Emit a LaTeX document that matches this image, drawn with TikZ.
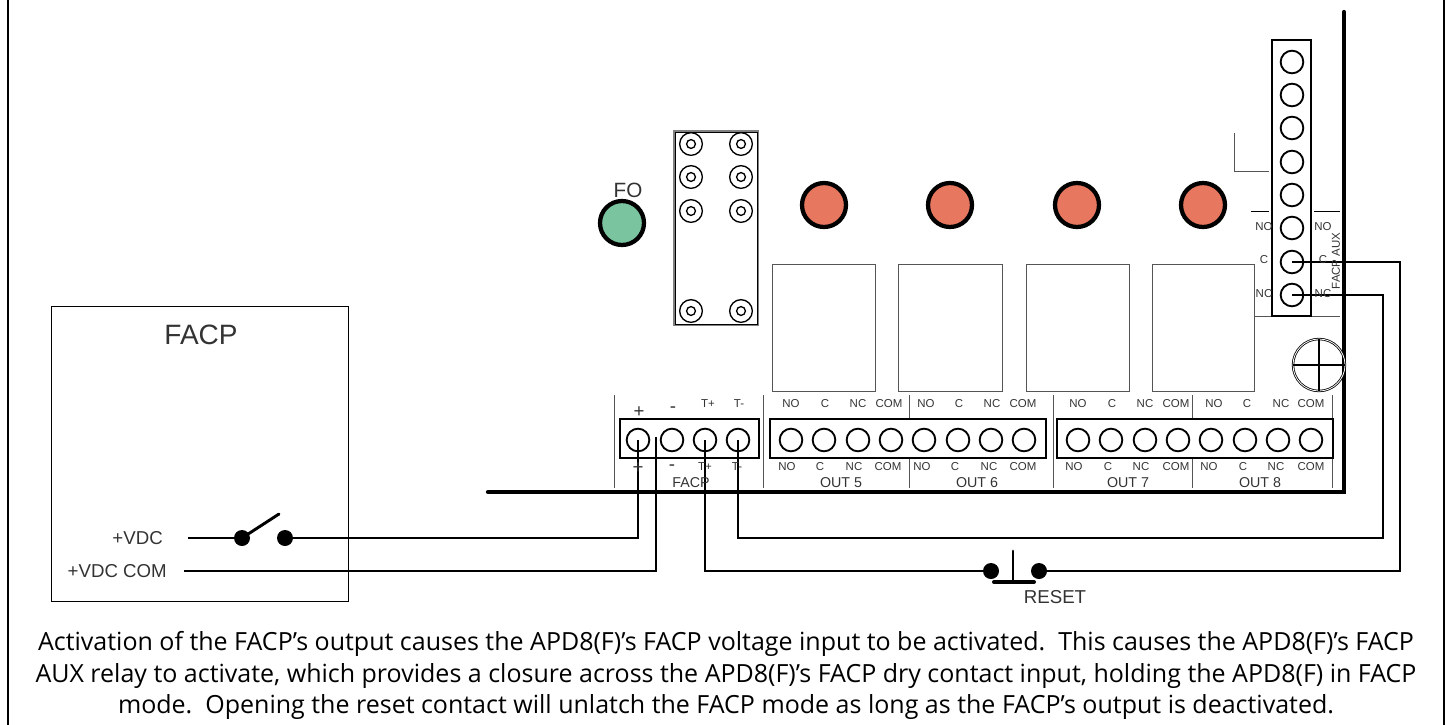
\documentclass[tikz,border=0pt]{standalone}
\usepackage{fontspec}
\setmainfont{Liberation Sans}
\newfontfamily\notefont{Open Sans}
\definecolor{ledgreen}{HTML}{7BC4A0}
\definecolor{ledred}{HTML}{E8775F}
\definecolor{tickgray}{HTML}{555555}
\definecolor{labelgray}{HTML}{333333}

\begin{document}
\begin{tikzpicture}[x=0.75pt,y=0.75pt,yscale=-1,xscale=1,
  term/.style={draw,circle,line width=1.4pt,minimum size=17pt,inner sep=0pt,outer sep=0pt},
  post/.style={draw,circle,line width=1pt,minimum size=17pt,inner sep=0pt,outer sep=0pt},
  hole/.style={draw,circle,line width=1pt,minimum size=6.6pt,inner sep=0pt,outer sep=0pt},
  led/.style={draw,circle,line width=3.2pt,minimum size=33pt,inner sep=0pt,outer sep=0pt},
  dot/.style={fill=black,circle,minimum size=12pt,inner sep=0pt,outer sep=0pt},
  wire/.style={line width=1.4pt},
  strip/.style={line width=1.6pt},
  tick/.style={draw=tickgray,line width=0.7pt},
  lbl/.style={inner sep=0.75pt,text=labelgray,font=\fontsize{8.6}{10}\selectfont},
  mid/.style={inner sep=0.75pt,text=labelgray,font=\fontsize{10.7}{12}\selectfont},
  big/.style={inner sep=0.75pt,text=labelgray,font=\fontsize{14}{17}\selectfont},
  note/.style={anchor=base,inner sep=0.75pt,font=\notefont\fontsize{18.75}{22}\selectfont}]
\useasboundingbox (0,0) rectangle (1450,725);

%Shape: Frame
\draw [line width=1.6pt] (8,-2) -- (8,727) (1444,-2) -- (1444,727) ;

%Shape: FACP box
\draw [line width=0.7pt] (51,306) rectangle (348,601) ;

%Shape: Board edge
\draw [line width=3.2pt,line cap=round] (488,492) -- (1344,492) -- (1344,12) ;

%Shape: Contact module
\draw [line width=1.6pt,draw=gray] (674,131) rectangle (758,325) ;
\draw [line width=0.5pt] (675,132) rectangle (757,324) ;
\draw (691,144) node [post] (pa) {}; \draw (691,144) node [hole] (ha) {};
\draw (741,144) node [post] (pb) {}; \draw (741,144) node [hole] (hb) {};
\draw (691,177) node [post] (pc) {}; \draw (691,177) node [hole] (hc) {};
\draw (741,177) node [post] (pd) {}; \draw (741,177) node [hole] (hd) {};
\draw (691,211) node [post] (pe) {}; \draw (691,211) node [hole] (he) {};
\draw (741,211) node [post] (pf) {}; \draw (741,211) node [hole] (hf) {};
\draw (691,311) node [post] (pg) {}; \draw (691,311) node [hole] (hg) {};
\draw (741,311) node [post] (ph) {}; \draw (741,311) node [hole] (hh) {};

%Shape: LEDs
\draw (622,223) node [led,fill=ledgreen] (ledfo) {};
\draw (824,205) node [led,fill=ledred] (leda) {};
\draw (950,205) node [led,fill=ledred] (ledb) {};
\draw (1077,205) node [led,fill=ledred] (ledc) {};
\draw (1203,205) node [led,fill=ledred] (ledd) {};

%Shape: Relays
\draw [tick] (772,264) rectangle (875,391) ;
\draw [tick] (898,264) rectangle (1002,391) ;
\draw [tick] (1026,264) rectangle (1129,391) ;
\draw [tick] (1152,264) rectangle (1254,391) ;

%Shape: Screw
\draw [line width=0.6pt,double,double distance=0.6pt] (1319,365) circle [radius=26] ;
\draw [line width=0.8pt] (1293,365) -- (1345,365) (1319,339) -- (1319,391) ;

%Shape: Ticks
\draw [tick] (614,395) -- (614,488) ;
\draw [tick] (763,395) -- (763,488) ;
\draw [tick] (909,395) -- (909,419) (909,458) -- (909,488) ;
\draw [tick] (1053,395) -- (1053,488) ;
\draw [tick] (1192,395) -- (1192,419) (1192,458) -- (1192,488) ;
\draw [tick] (1332,395) -- (1332,488) ;
\draw [tick] (1234,133) -- (1234,171) -- (1269,171) ;
\draw [line width=0.7pt] (1251,211) -- (1269,211) (1314,211) -- (1340,211) ;
\draw [tick] (1255,316) -- (1340,316) ;

%Shape: Terminal strips
\draw [strip] (620,419) rectangle (759,458) ;
\draw [strip] (770,419) rectangle (1046,458) ;
\draw [strip] (1057,419) rectangle (1333,458) ;
\draw [strip] (1272,40) rectangle (1311,316) ;

%Shape: Terminals
\draw (638,440) node [term] (tplus) {};
\draw (672,440) node [term] (tminus) {};
\draw (705,440) node [term] (ttplus) {};
\draw (738,440) node [term] (ttminus) {};
\draw (791,440) node [term] (ta) {};
\draw (824,440) node [term] (tb) {};
\draw (858,440) node [term] (tc) {};
\draw (891,440) node [term] (td) {};
\draw (924,440) node [term] (te) {};
\draw (958,440) node [term] (tf) {};
\draw (991,440) node [term] (tg) {};
\draw (1024,440) node [term] (th) {};
\draw (1078,440) node [term] (ti) {};
\draw (1111,440) node [term] (tj) {};
\draw (1145,440) node [term] (tk) {};
\draw (1178,440) node [term] (tl) {};
\draw (1211,440) node [term] (tm) {};
\draw (1245,440) node [term] (tn) {};
\draw (1278,440) node [term] (to) {};
\draw (1311,440) node [term] (tp) {};
\draw (1292,62) node [term] (auxa) {};
\draw (1292,95) node [term] (auxb) {};
\draw (1292,128) node [term] (auxd) {};
\draw (1292,162) node [term] (auxe) {};
\draw (1292,195) node [term] (auxf) {};
\draw (1292,228) node [term] (auxg) {};
\draw (1292,262) node [term] (auxc) {};
\draw (1292,295) node [term] (auxn) {};

%Shape: Switch and reset contacts
\draw (242,538) node [dot] (swa) {};
\draw (285,538) node [dot] (swb) {};
\draw (991,571) node [dot] (rsta) {};
\draw (1039,571) node [dot] (rstb) {};
\coordinate (swtip) at (279,514);
\coordinate (rsttop) at (1013,551);
\coordinate (rstfoot) at (1013,582);
\coordinate (vdcend) at (188,538);
\coordinate (comend) at (184,571);
\coordinate (comtop) at (656,437);
\coordinate (cornerc) at (1400,262);
\coordinate (cornern) at (1383,295);
\coordinate (cornerb) at (1383,538);
\coordinate (foota) at (994,582);
\coordinate (footb) at (1034,582);
\draw [line width=2.2pt,line cap=round] (swa) -- (swtip) ;
\draw [line width=2.2pt,line cap=round] (rsttop) -- (rstfoot) ;
\draw [line width=3pt,line cap=round] (foota) -- (footb) ;

%Straight Lines: wires
\draw [wire] (vdcend) -- (swa) ;
\draw [wire] (swb) -| (tplus.center) ;
\draw [wire] (comend) -| (comtop) ;
\draw [wire] (ttplus.center) |- (rsta) ;
\draw [wire] (rstb) -| (cornerc) -- (auxc.center) ;
\draw [wire] (ttminus.center) |- (cornerb) -- (cornern) -- (auxn.center) ;

% Text Node
\draw (201,335) node [inner sep=0.75pt,text=labelgray,font=\fontsize{21}{25}\selectfont] (titlefacp) {FACP};
\draw (628,190) node [inner sep=0.75pt,text=labelgray,font=\fontsize{15.5}{18}\selectfont] (titlefo) {FO};
\draw (164,538) node [anchor=east,big] (lblvdc) {+VDC};
\draw (168,571) node [anchor=east,big] (lblcom) {+VDC COM};
\draw (1055,597) node [big] (lblreset) {RESET};
% Text Node
\draw (639,412) node [big] (uplus) {+};
\draw (673,410) node [big] (uminus) {-};
\draw (708,404) node [lbl] (utplus) {T+};
\draw (739,404) node [lbl] (utminus) {T-};
\draw (638,468) node [big] (dplus) {+};
\draw (672,468) node [big] (dminus) {-};
\draw (705,467) node [lbl] (dtplus) {T+};
\draw (737,467) node [lbl] (dtminus) {T-};
\draw (691,483) node [mid] (namefacp) {FACP};
\draw (841,483) node [mid] (nameoutfive) {OUT 5};
\draw (977,483) node [mid] (nameoutsix) {OUT 6};
\draw (1128,483) node [mid] (nameoutseven) {OUT 7};
\draw (1260,483) node [mid] (nameouteight) {OUT 8};
% Text Node
\draw (791,404) node [lbl] (ua) {NO};
\draw (825,404) node [lbl] (ub) {C};
\draw (858,404) node [lbl] (uc) {NC};
\draw (889,404) node [lbl] (ud) {COM};
\draw (926,404) node [lbl] (ue) {NO};
\draw (959,404) node [lbl] (uf) {C};
\draw (992,404) node [lbl] (ug) {NC};
\draw (1023,404) node [lbl] (uh) {COM};
\draw (1078,404) node [lbl] (ui) {NO};
\draw (1112,404) node [lbl] (uj) {C};
\draw (1145,404) node [lbl] (uk) {NC};
\draw (1176,404) node [lbl] (ul) {COM};
\draw (1214,404) node [lbl] (um) {NO};
\draw (1247,404) node [lbl] (un) {C};
\draw (1281,404) node [lbl] (uo) {NC};
\draw (1311,404) node [lbl] (up) {COM};
% Text Node
\draw (787,467) node [lbl] (da) {NO};
\draw (820,467) node [lbl] (db) {C};
\draw (854,467) node [lbl] (dc) {NC};
\draw (888,467) node [lbl] (dd) {COM};
\draw (922,467) node [lbl] (de) {NO};
\draw (955,467) node [lbl] (df) {C};
\draw (989,467) node [lbl] (dg) {NC};
\draw (1023,467) node [lbl] (dh) {COM};
\draw (1074,467) node [lbl] (di) {NO};
\draw (1108,467) node [lbl] (dj) {C};
\draw (1141,467) node [lbl] (dk) {NC};
\draw (1176,467) node [lbl] (dl) {COM};
\draw (1209,467) node [lbl] (dm) {NO};
\draw (1243,467) node [lbl] (dn) {C};
\draw (1276,467) node [lbl] (do) {NC};
\draw (1311,467) node [lbl] (dp) {COM};
% Text Node
\draw (1264,227) node [lbl] (auxlno) {NO};
\draw (1264,260) node [lbl] (auxlc) {C};
\draw (1264,294) node [lbl] (auxlnc) {NC};
\draw (1323,227) node [lbl] (auxrno) {NO};
\draw (1323,260) node [lbl] (auxrc) {C};
\draw (1323,294) node [lbl] (auxrnc) {NC};
\draw (1336,261) node [lbl,rotate=90] (nameaux) {FACP AUX};
% Text Node
\draw (726,650) node [note] (linea) {Activation of the FACP’s output causes the APD8(F)’s FACP voltage input to be activated.\ \ This causes the APD8(F)’s FACP};
\draw (726,682) node [note] (lineb) {AUX relay to activate, which provides a closure across the APD8(F)’s FACP dry contact input, holding the APD8(F) in FACP};
\draw (726,713) node [note] (linec) {mode.\ \ Opening the reset contact will unlatch the FACP mode as long as the FACP’s output is deactivated.};

\end{tikzpicture}
\end{document}
